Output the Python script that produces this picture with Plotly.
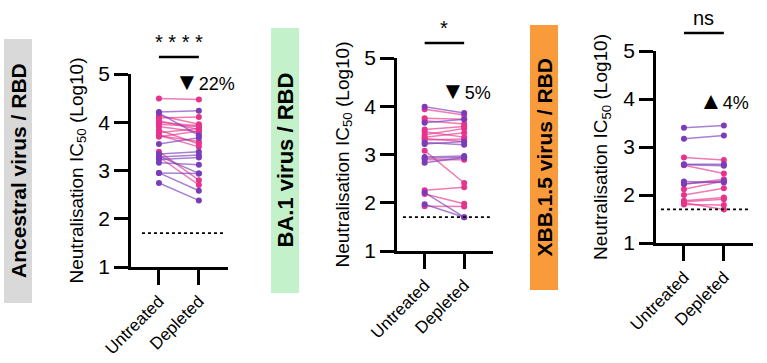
import plotly.graph_objects as go

W, H = 767, 363
FONT = "Liberation Sans, Arial, sans-serif"
PINK = "#e6338c"
PURPLE = "#7a3cb8"
PINK_LINE = "rgba(230,51,140,0.65)"
PURPLE_LINE = "rgba(122,60,184,0.65)"

categories = ["Untreated", "Depleted"]

# Ancestral virus / RBD
anc_untreated = [4.49, 4.14, 4.09, 4.03, 3.96, 3.91, 3.84, 3.78, 3.73, 3.70, 3.72, 4.00, 3.39, 3.28,
                 4.21, 4.19, 3.55, 3.34, 3.28, 3.23, 3.16, 3.30, 2.95, 2.74, 2.95]
anc_depleted = [4.47, 3.96, 4.11, 3.85, 3.91, 3.80, 3.55, 3.87, 3.49, 3.82, 3.60, 3.93, 2.80, 2.70,
                4.24, 3.73, 3.68, 3.39, 3.32, 3.27, 3.12, 2.94, 2.58, 2.38, 2.94]
anc_group = ["p"] * 14 + ["v"] * 11

# BA.1 virus / RBD
ba1_untreated = [3.94, 3.75, 3.70, 3.52, 3.47, 3.41, 3.36, 3.30, 3.33, 3.08, 2.89, 2.26, 2.18, 1.93,
                 3.99, 3.66, 3.25, 3.22, 2.95, 2.92, 2.83, 2.21, 1.97]
ba1_depleted = [3.82, 3.73, 3.63, 3.58, 3.36, 3.54, 3.45, 3.32, 3.27, 2.41, 2.89, 2.32, 1.98, 1.92,
                3.86, 3.73, 3.20, 3.27, 2.97, 2.94, 2.94, 1.70, 1.70]
ba1_group = ["p"] * 14 + ["v"] * 9

# XBB.1.5 virus / RBD
xbb_untreated = [2.78, 2.62, 2.23, 2.12, 2.00, 1.88, 1.86, 1.84, 1.80,
                 3.40, 3.17, 2.64, 2.63, 2.28, 2.23]
xbb_depleted = [2.73, 2.45, 2.33, 2.29, 2.14, 1.95, 1.91, 1.70, 1.79,
                3.45, 3.24, 2.64, 2.61, 2.26, 2.29]
xbb_group = ["p"] * 9 + ["v"] * 6

panel_titles = ["Ancestral virus / RBD", "BA.1 virus / RBD", "XBB.1.5 virus / RBD"]
panel_box_colors = ["#d9d9d9", "#c3f1c9", "#f99b3b"]
significance = ["* * * *", "*", "ns"]
change_arrows = ["▼", "▼", "▲"]
change_values = ["22%", "5%", "4%"]
lod = 1.7
y_ticks = [1, 2, 3, 4, 5]

panels = [
    (anc_untreated, anc_depleted, anc_group),
    (ba1_untreated, ba1_depleted, ba1_group),
    (xbb_untreated, xbb_depleted, xbb_group),
]

# layout in pixels
ax_x = [(131, 228), (397, 493), (656, 753)]       # x pixel extent of each axis
ax_y = [(74, 267), (58, 251), (51, 243)]          # y pixel (top, bottom) for 5 and 1
box_px = [(4, 39, 32, 303), (271, 28, 299, 293), (530, 25, 558, 290)]
box_font = [21, 22, 21]
title_x = [77, 343, 602]
dotted_x = [(-0.425, 1.675), (-0.55, 1.65), (-0.575, 1.625)]
sig_y = [57, 43, 33]
change_pos = [(205, 81), (466, 90), (724, 100)]
XR = [-0.7, 1.73]

fig = go.Figure()
layout = dict(
    template="none",
    width=W, height=H, margin=dict(l=0, r=0, t=0, b=0, pad=0, autoexpand=False),
    paper_bgcolor="white", plot_bgcolor="white", showlegend=False,
    font=dict(family=FONT, color="black"),
)
annotations = []
shapes = []

for i, (u, d, g) in enumerate(panels):
    n = i + 1
    xa = "x" if n == 1 else f"x{n}"
    ya = "y" if n == 1 else f"y{n}"
    for grp, lc, mc in (("p", PINK_LINE, PINK), ("v", PURPLE_LINE, PURPLE)):
        xs, ys = [], []
        for a, b, gg in zip(u, d, g):
            if gg != grp:
                continue
            xs += [0, 1, None]
            ys += [a, b, None]
        fig.add_trace(go.Scatter(x=xs, y=ys, mode="lines", line=dict(color=lc, width=1.5),
                                 xaxis=xa, yaxis=ya, hoverinfo="skip"))
        mx = [0 for gg in g if gg == grp] + [1 for gg in g if gg == grp]
        my = [a for a, gg in zip(u, g) if gg == grp] + [b for b, gg in zip(d, g) if gg == grp]
        fig.add_trace(go.Scatter(x=mx, y=my, mode="markers", marker=dict(color=mc, size=6, line=dict(width=0)),
                                 xaxis=xa, yaxis=ya))
    # limit of detection
    fig.add_trace(go.Scatter(x=list(dotted_x[i]), y=[lod, lod], mode="lines",
                             line=dict(color="black", width=1.8, dash="dot"),
                             xaxis=xa, yaxis=ya, hoverinfo="skip"))

    x0, x1 = ax_x[i]
    yt, yb = ax_y[i]
    layout["xaxis" if n == 1 else f"xaxis{n}"] = dict(
        domain=[x0 / W, x1 / W], range=XR, anchor=ya, automargin=False,
        tickvals=[0, 1], ticktext=categories, tickangle=-45,
        ticks="outside", ticklen=15, tickwidth=2.5, tickcolor="black",
        showline=True, linewidth=2.5, linecolor="black",
        showgrid=False, zeroline=False, tickfont=dict(size=17, family=FONT, color="black"),
    )
    layout["yaxis" if n == 1 else f"yaxis{n}"] = dict(
        domain=[1 - yb / H, 1 - yt / H], range=[1, 5], anchor=xa, automargin=False,
        tickvals=y_ticks, ticks="outside", ticklen=14, tickwidth=2.5, tickcolor="black",
        showline=True, linewidth=2.5, linecolor="black",
        showgrid=False, zeroline=False, tickfont=dict(size=21, family=FONT, color="black"),
    )
    # coloured label box
    bx0, by0, bx1, by1 = box_px[i]
    shapes.append(dict(type="rect", xref="paper", yref="paper",
                       x0=bx0 / W, x1=bx1 / W, y0=1 - by1 / H, y1=1 - by0 / H,
                       fillcolor=panel_box_colors[i], line=dict(width=0), layer="below"))
    annotations.append(dict(xref="paper", yref="paper", x=(bx0 + bx1) / 2 / W,
                            y=1 - (by0 + by1) / 2 / H, text=f"<b>{panel_titles[i]}</b>",
                            textangle=-90, showarrow=False, xanchor="center", yanchor="middle",
                            font=dict(size=box_font[i], family=FONT, color="black")))
    # y title
    annotations.append(dict(xref="paper", yref="paper", x=title_x[i] / W,
                            y=1 - (yt + yb) / 2 / H,
                            text="Neutralisation IC<sub>50</sub> (Log10)",
                            textangle=-90, showarrow=False, xanchor="center", yanchor="middle",
                            font=dict(size=19, family=FONT, color="black")))
    # significance bar
    shapes.append(dict(type="line", xref=xa, yref="paper", x0=0, x1=1,
                       y0=1 - sig_y[i] / H, y1=1 - sig_y[i] / H,
                       line=dict(color="black", width=2.5)))
    annotations.append(dict(xref=xa, yref="paper", x=0.5, y=1 - (sig_y[i] - 2) / H,
                            text=significance[i], showarrow=False, xanchor="center",
                            yanchor="bottom", font=dict(size=20, family=FONT, color="black")))
    cx, cy = change_pos[i]
    annotations.append(dict(xref="paper", yref="paper", x=cx / W, y=1 - cy / H,
                            text=f"<span style='font-size:24px'>{change_arrows[i]}</span>{change_values[i]}",
                            showarrow=False, xanchor="center", yanchor="middle",
                            font=dict(size=18, family=FONT, color="black")))

layout["annotations"] = annotations
layout["shapes"] = shapes
fig.update_layout(**layout)
fig.write_html("out.html", config={"displayModeBar": False},
               post_script="document.body.style.margin='0';document.body.style.overflow='hidden';")
